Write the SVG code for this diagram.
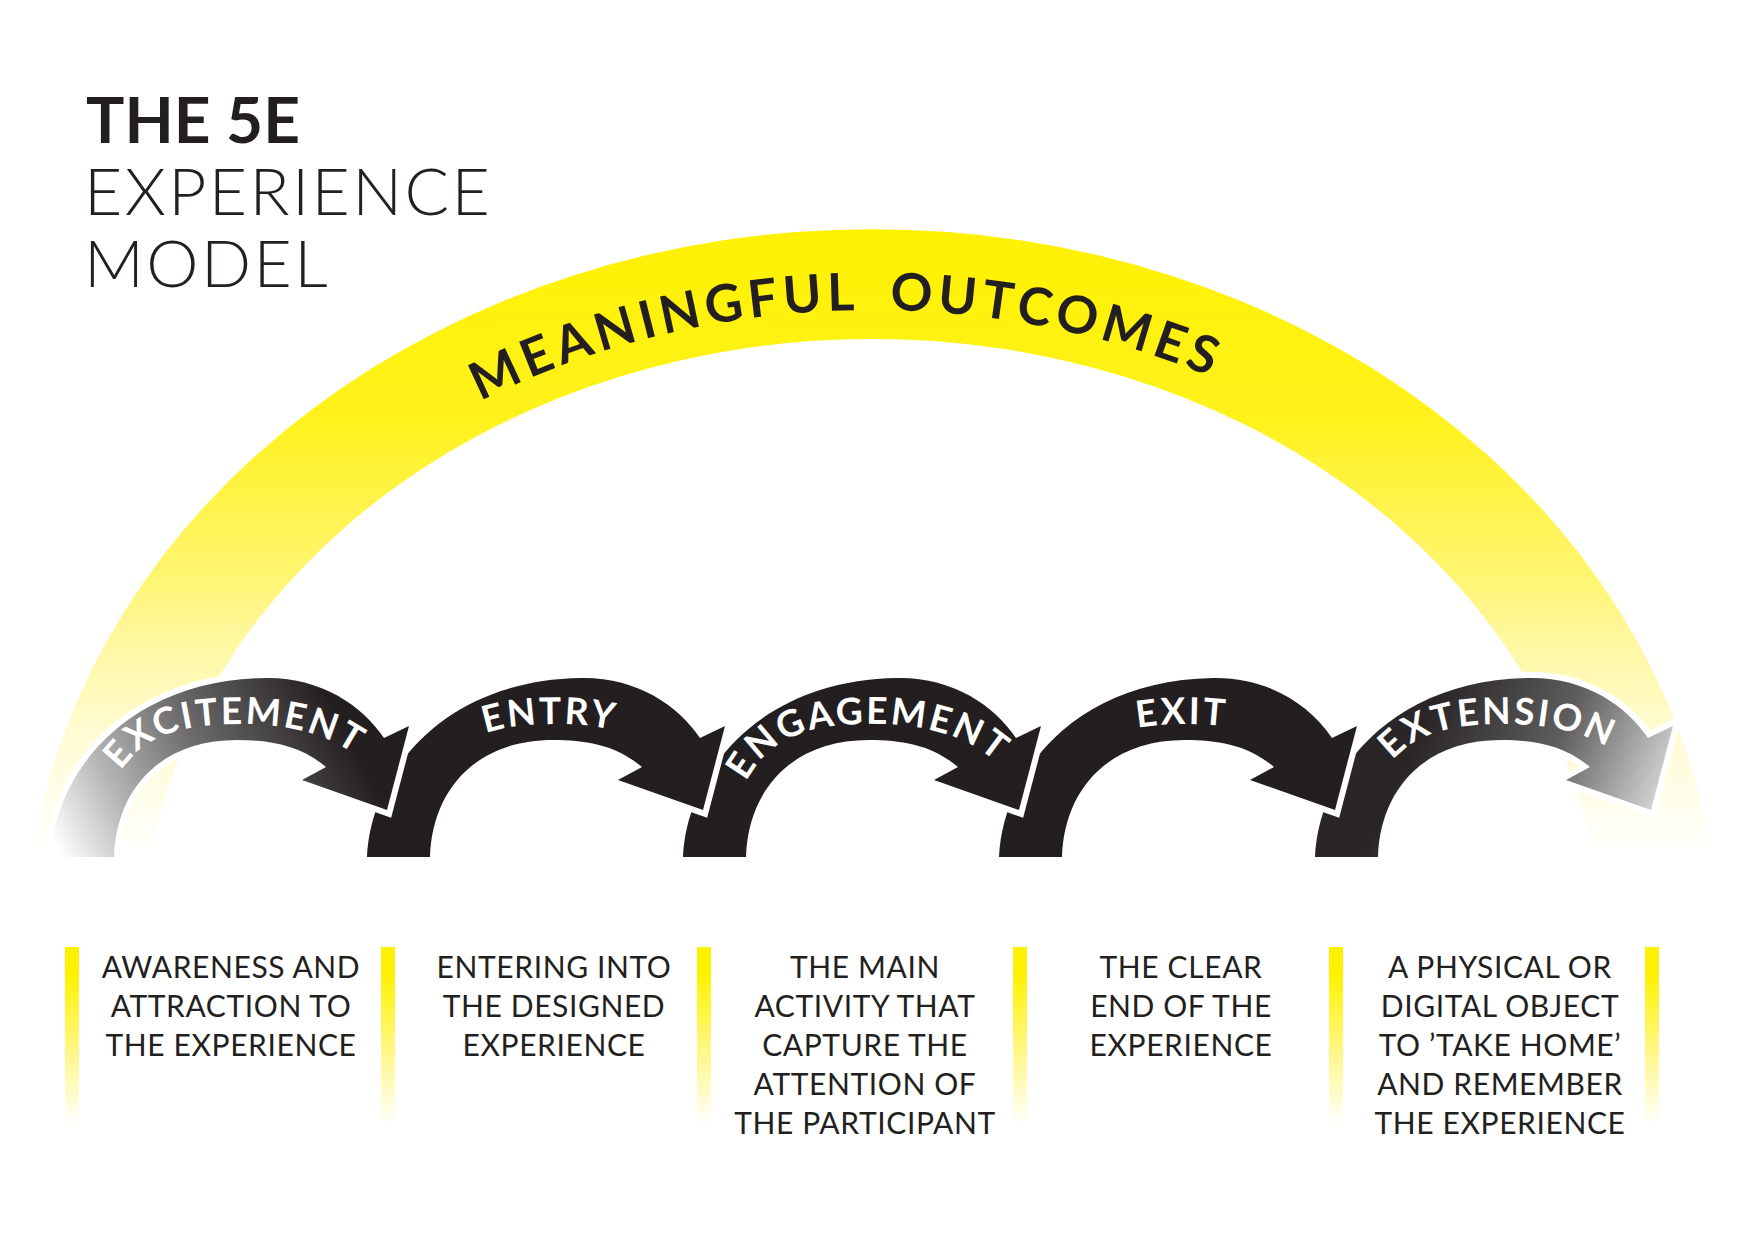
<svg xmlns="http://www.w3.org/2000/svg" xmlns:xlink="http://www.w3.org/1999/xlink" width="1754" height="1241" viewBox="0 0 1754 1241">
  <style>
    .title-bold { font-family: Lato, "Liberation Sans", sans-serif; font-weight: 700; font-size: 64px; fill: #231f20; }
    .title-light { font-family: Lato, "Liberation Sans", sans-serif; font-weight: 300; font-size: 66px; fill: #231f20; letter-spacing: 2.4px; }
    .arc-label { font-family: Lato, "Liberation Sans", sans-serif; font-weight: 700; font-size: 52px; fill: #231f20; letter-spacing: 5px; }
    .stage-label { font-family: Lato, "Liberation Sans", sans-serif; font-weight: 700; font-size: 37px; fill: #ffffff; letter-spacing: 2.5px; }
    .desc { font-family: Lato, "Liberation Sans", sans-serif; font-weight: 400; font-size: 30px; fill: #231f20; letter-spacing: 0.6px; text-anchor: middle; }
    .arrow { stroke: #ffffff; stroke-width: 12; stroke-linejoin: miter; paint-order: stroke; }
  </style>
  <defs>
    <linearGradient id="rainbowGrad" gradientUnits="userSpaceOnUse" x1="0" y1="229" x2="0" y2="857">
      <stop offset="0" stop-color="#fff100"/>
      <stop offset="0.3" stop-color="#fff21c"/>
      <stop offset="0.55" stop-color="#fff570"/>
      <stop offset="0.65" stop-color="#fff79e"/>
      <stop offset="0.8" stop-color="#fffbd2"/>
      <stop offset="1" stop-color="#ffffff"/>
    </linearGradient>
    <linearGradient id="barGrad" x1="0" y1="0" x2="0" y2="1">
      <stop offset="0" stop-color="#fff200"/>
      <stop offset="0.15" stop-color="#fff200"/>
      <stop offset="0.6" stop-color="#fff78c"/>
      <stop offset="1" stop-color="#ffffff"/>
    </linearGradient>
    <linearGradient id="gradExcitement" gradientUnits="userSpaceOnUse" x1="55" y1="845" x2="330" y2="700">
      <stop offset="0" stop-color="#ffffff"/>
      <stop offset="0.25" stop-color="#b5b5b5"/>
      <stop offset="0.55" stop-color="#6d6b6c"/>
      <stop offset="1" stop-color="#231f20"/>
    </linearGradient>
    <linearGradient id="gradExtension" gradientUnits="userSpaceOnUse" x1="176" y1="690" x2="436" y2="810">
      <stop offset="0" stop-color="#2a2627"/>
      <stop offset="0.45" stop-color="#5f5d5e"/>
      <stop offset="1" stop-color="#ffffff"/>
    </linearGradient>
    <path id="arrowShape" d="M 51,857 C 55,770 130,680 265,678 C 320,677 362,705 384,738 L 409,726 L 387,810 L 302,780 L 326,767 C 300,745 270,740 237,740 C 160,740 116,790 114,857 Z"/>
    <path id="labelPath" d="M 110,790 C 135,735 180,724 240,724 C 300,724 345,740 372,770"/>
    <path id="rainbowTextPath" d="M 111,950 A 761 640 0 0 1 1633,950"/>
  </defs>

  <rect x="0" y="0" width="1754" height="1241" fill="#ffffff"/>

  <g id="title">
    <text class="title-bold" x="86" y="143">THE 5E</text>
    <text class="title-light" x="84" y="215">EXPERIENCE</text>
    <text class="title-light" x="84" y="287">MODEL</text>
  </g>

  <g id="meaningful-outcomes">
    <path d="M 32.1,857 A 847 721 0 0 1 1711.9,857 L 1593.5,857 A 730 611 0 0 0 150.5,857 Z" fill="url(#rainbowGrad)"/>
    <text class="arc-label" text-anchor="end"><textPath href="#rainbowTextPath" startOffset="1090">MEANINGFUL</textPath></text>
    <text class="arc-label" text-anchor="start"><textPath href="#rainbowTextPath" startOffset="1120">OUTCOMES</textPath></text>
  </g>

  <g id="connectors">
    <g id="stage-extension" transform="translate(1264,0)">
      <use href="#arrowShape" class="arrow" fill="url(#gradExtension)"/>
      <text class="stage-label" text-anchor="middle"><textPath href="#labelPath" startOffset="50%">EXTENSION</textPath></text>
    </g>
    <g id="stage-exit" transform="translate(948,0)">
      <use href="#arrowShape" class="arrow" fill="#231f20"/>
      <text class="stage-label" text-anchor="middle"><textPath href="#labelPath" startOffset="50%">EXIT</textPath></text>
    </g>
    <g id="stage-engagement" transform="translate(632,0)">
      <use href="#arrowShape" class="arrow" fill="#231f20"/>
      <text class="stage-label" text-anchor="middle"><textPath href="#labelPath" startOffset="50%">ENGAGEMENT</textPath></text>
    </g>
    <g id="stage-entry" transform="translate(316,0)">
      <use href="#arrowShape" class="arrow" fill="#231f20"/>
      <text class="stage-label" text-anchor="middle"><textPath href="#labelPath" startOffset="50%">ENTRY</textPath></text>
    </g>
    <g id="stage-excitement">
      <use href="#arrowShape" class="arrow" fill="url(#gradExcitement)"/>
      <text class="stage-label" text-anchor="middle"><textPath href="#labelPath" startOffset="50%">EXCITEMENT</textPath></text>
    </g>
  </g>

  <g id="dividers">
    <rect x="65" y="947" width="14" height="178" fill="url(#barGrad)"/>
    <rect x="381" y="947" width="14" height="178" fill="url(#barGrad)"/>
    <rect x="697" y="947" width="14" height="178" fill="url(#barGrad)"/>
    <rect x="1013" y="947" width="14" height="178" fill="url(#barGrad)"/>
    <rect x="1329" y="947" width="14" height="178" fill="url(#barGrad)"/>
    <rect x="1645" y="947" width="14" height="178" fill="url(#barGrad)"/>
  </g>

  <g id="desc-excitement">
    <text class="desc" x="231" y="978"><tspan x="231" y="978">AWARENESS AND</tspan><tspan x="231" y="1017">ATTRACTION TO</tspan><tspan x="231" y="1056">THE EXPERIENCE</tspan></text>
  </g>
  <g id="desc-entry">
    <text class="desc" x="554" y="978"><tspan x="554" y="978">ENTERING INTO</tspan><tspan x="554" y="1017">THE DESIGNED</tspan><tspan x="554" y="1056">EXPERIENCE</tspan></text>
  </g>
  <g id="desc-engagement">
    <text class="desc" x="865" y="978"><tspan x="865" y="978">THE MAIN</tspan><tspan x="865" y="1017">ACTIVITY THAT</tspan><tspan x="865" y="1056">CAPTURE THE</tspan><tspan x="865" y="1095">ATTENTION OF</tspan><tspan x="865" y="1134">THE PARTICIPANT</tspan></text>
  </g>
  <g id="desc-exit">
    <text class="desc" x="1181" y="978"><tspan x="1181" y="978">THE CLEAR</tspan><tspan x="1181" y="1017">END OF THE</tspan><tspan x="1181" y="1056">EXPERIENCE</tspan></text>
  </g>
  <g id="desc-extension">
    <text class="desc" x="1500" y="978"><tspan x="1500" y="978">A PHYSICAL OR</tspan><tspan x="1500" y="1017">DIGITAL OBJECT</tspan><tspan x="1500" y="1056">TO ’TAKE HOME’</tspan><tspan x="1500" y="1095">AND REMEMBER</tspan><tspan x="1500" y="1134">THE EXPERIENCE</tspan></text>
  </g>
</svg>
